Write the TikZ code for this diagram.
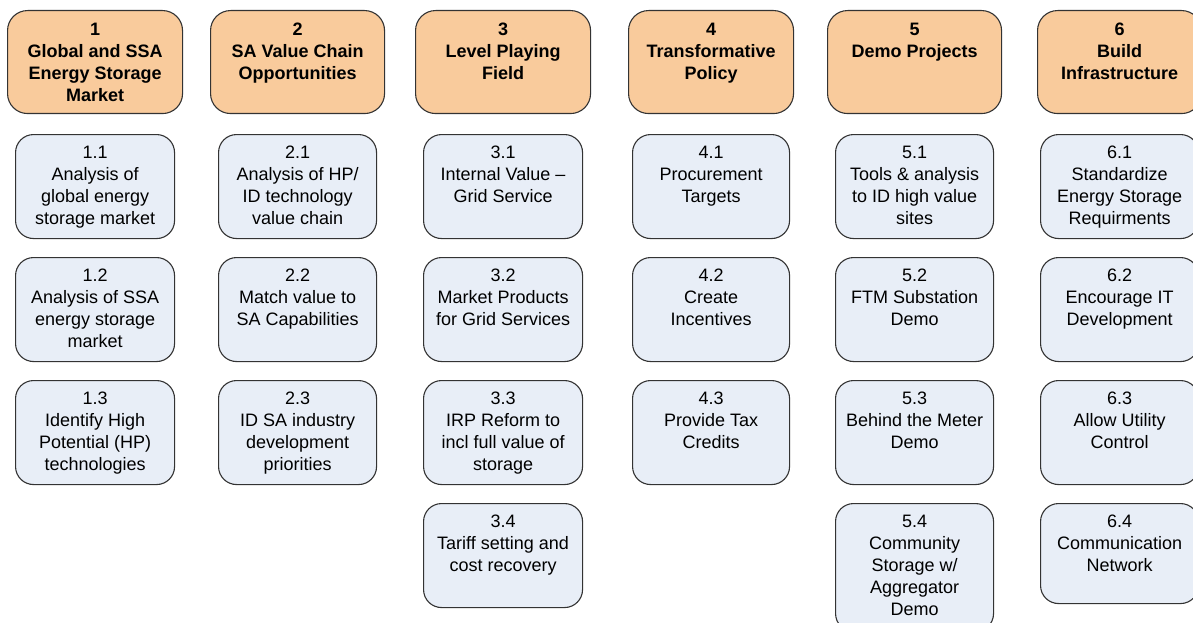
\documentclass[tikz,border=0pt]{standalone}
\usepackage{fontspec}
\setmainfont{Liberation Sans}
\definecolor{hdrfill}{HTML}{F9CB9C}
\definecolor{subfill}{HTML}{E8EEF7}
\definecolor{edge}{HTML}{333333}
\tikzset{
  x=1pt, y=1pt,
  boxbase/.style={draw=edge, line width=1.1pt, anchor=north west, inner sep=0pt, text=black},
  hdrbox/.style={boxbase, fill=hdrfill, rounded corners=20pt, minimum width=#1, minimum height=103pt},
  hdrbox/.default=175pt,
  subbox/.style={boxbase, fill=subfill, rounded corners=18pt, minimum width=#1, minimum height=104pt},
  subbox/.default=158pt,
  hdrtext/.style={label={[anchor=north, yshift=-10.1pt, inner sep=0pt, align=center, font=\fontsize{18}{22}\selectfont\bfseries]north:{#1}}},
  subtext/.style={label={[anchor=north, yshift=-9.1pt, inner sep=0pt, align=center, font=\fontsize{18}{22}\selectfont]north:{#1}}},
}
\begin{document}
\begin{tikzpicture}
\useasboundingbox (0,0) rectangle (1193,-623);
\clip (0,0) rectangle (1193,-623);
% headers
\node[hdrbox, hdrtext={\strut 1\\Global and SSA\\Energy Storage\\Market}] (h1) at (7,-10) {};
\node[hdrbox=174pt, hdrtext={\strut 2\\SA Value Chain\\Opportunities}] (h2) at (210,-10) {};
\node[hdrbox, hdrtext={\strut 3\\Level Playing\\Field}] (h3) at (415,-10) {};
\node[hdrbox=165pt, hdrtext={\strut 4\\Transformative\\Policy}] (h4) at (628,-10) {};
\node[hdrbox=174pt, hdrtext={\strut 5\\Demo Projects}] (h5) at (827,-10) {};
\node[hdrbox=164pt, hdrtext={\strut 6\\Build\\Infrastructure}] (h6) at (1037,-10) {};
% column 1
\node[subbox=159pt, subtext={\strut 1.1\\Analysis of\\global energy\\storage market}] (s11) at (15,-134) {};
\node[subbox=159pt, subtext={\strut 1.2\\Analysis of SSA\\energy storage\\market}] (s12) at (15,-257) {};
\node[subbox=159pt, subtext={\strut 1.3\\Identify High\\Potential (HP)\\technologies}] (s13) at (15,-380) {};
% column 2
\node[subbox, subtext={\strut 2.1\\Analysis of HP/\\ID technology\\value chain}] (s21) at (218,-134) {};
\node[subbox, subtext={\strut 2.2\\Match value to\\SA Capabilities}] (s22) at (218,-257) {};
\node[subbox, subtext={\strut 2.3\\ID SA industry\\development\\priorities}] (s23) at (218,-380) {};
% column 3
\node[subbox=159pt, subtext={\strut 3.1\\Internal Value –\\Grid Service}] (s31) at (423,-134) {};
\node[subbox=159pt, subtext={\strut 3.2\\Market Products\\for Grid Services}] (s32) at (423,-257) {};
\node[subbox=159pt, subtext={\strut 3.3\\IRP Reform to\\incl full value of\\storage}] (s33) at (423,-380) {};
\node[subbox=159pt, subtext={\strut 3.4\\Tariff setting and\\cost recovery}] (s34) at (423,-503) {};
% column 4
\node[subbox=157pt, subtext={\strut 4.1\\Procurement\\Targets}] (s41) at (632,-134) {};
\node[subbox=157pt, subtext={\strut 4.2\\Create\\Incentives}] (s42) at (632,-257) {};
\node[subbox=157pt, subtext={\strut 4.3\\Provide Tax\\Credits}] (s43) at (632,-380) {};
% column 5
\node[subbox, subtext={\strut 5.1\\Tools \& analysis\\to ID high value\\sites}] (s51) at (835,-134) {};
\node[subbox, subtext={\strut 5.2\\FTM Substation\\Demo}] (s52) at (835,-257) {};
\node[subbox, subtext={\strut 5.3\\Behind the Meter\\Demo}] (s53) at (835,-380) {};
\node[subbox, minimum height=128pt, subtext={\strut 5.4\\Community\\Storage w/\\Aggregator\\Demo}] (s54) at (835,-503) {};
% column 6
\node[subbox, subtext={\strut 6.1\\Standardize\\Energy Storage\\Requirments}] (s61) at (1040,-134) {};
\node[subbox, subtext={\strut 6.2\\Encourage IT\\Development}] (s62) at (1040,-257) {};
\node[subbox, subtext={\strut 6.3\\Allow Utility\\Control}] (s63) at (1040,-380) {};
\node[subbox, minimum height=100pt, subtext={\strut 6.4\\Communication\\Network}] (s64) at (1040,-503) {};
\end{tikzpicture}
\end{document}
